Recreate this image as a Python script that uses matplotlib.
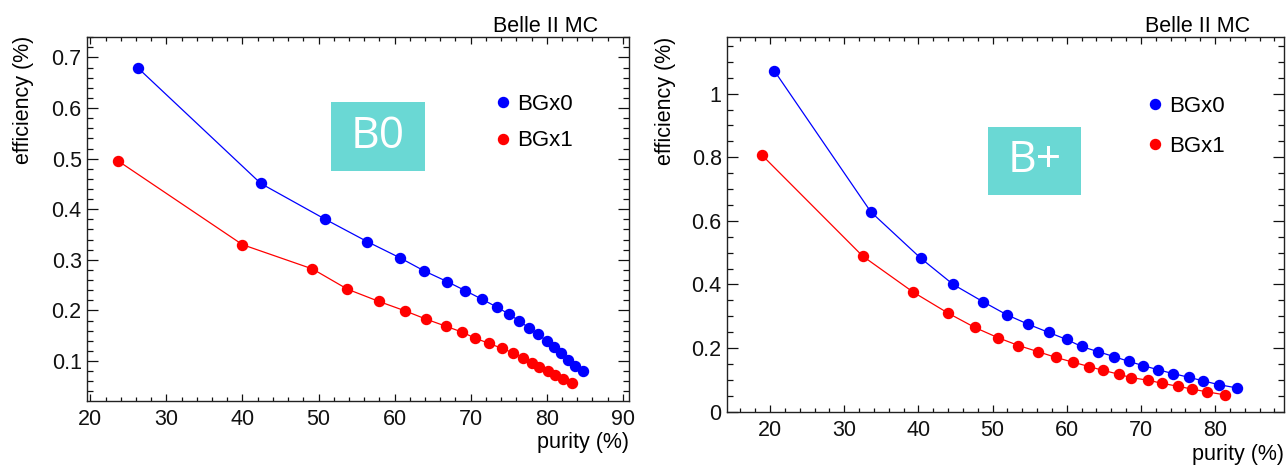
import matplotlib
matplotlib.use("Agg")
from matplotlib import pyplot as plt
from matplotlib.lines import Line2D
from matplotlib.patches import Rectangle
from matplotlib.ticker import MultipleLocator, FormatStrFormatter

plt.rcParams['font.family'] = ['Liberation Sans', 'DejaVu Sans']

# B0 panel
b0_pur_bg0 = [26.2, 42.4, 50.9, 56.4, 60.7, 63.9, 66.9, 69.3, 71.5, 73.4,
              75.0, 76.4, 77.7, 78.9, 80.0, 81.0, 81.9, 82.8, 83.7, 84.8]
b0_eff_bg0 = [0.680, 0.451, 0.380, 0.336, 0.304, 0.278, 0.257, 0.239, 0.222, 0.207,
              0.193, 0.179, 0.165, 0.153, 0.139, 0.127, 0.116, 0.103, 0.091, 0.080]
b0_pur_bg1 = [23.6, 40.0, 49.2, 53.8, 57.9, 61.4, 64.1, 66.7, 68.9, 70.6,
              72.4, 74.1, 75.6, 76.9, 78.0, 79.0, 80.2, 81.1, 82.2, 83.3]
b0_eff_bg1 = [0.496, 0.330, 0.282, 0.242, 0.218, 0.199, 0.183, 0.169, 0.157, 0.145,
              0.135, 0.125, 0.116, 0.106, 0.097, 0.088, 0.080, 0.072, 0.064, 0.056]

# B+ panel
bp_pur_bg0 = [20.6, 33.6, 40.3, 44.7, 48.7, 51.9, 54.8, 57.6, 60.0, 62.0,
              64.2, 66.4, 68.4, 70.3, 72.3, 74.3, 76.5, 78.4, 80.5, 82.9]
bp_eff_bg0 = [1.071, 0.628, 0.483, 0.400, 0.346, 0.305, 0.275, 0.249, 0.227, 0.205,
              0.189, 0.173, 0.158, 0.145, 0.132, 0.120, 0.108, 0.097, 0.085, 0.075]
bp_pur_bg1 = [18.9, 32.5, 39.3, 44.0, 47.6, 50.7, 53.5, 56.1, 58.5, 60.8,
              63.0, 64.9, 67.0, 68.7, 71.0, 72.9, 75.0, 76.9, 78.9, 81.3]
bp_eff_bg1 = [0.807, 0.489, 0.376, 0.310, 0.265, 0.233, 0.208, 0.189, 0.171, 0.156,
              0.142, 0.130, 0.118, 0.107, 0.099, 0.089, 0.080, 0.071, 0.0625, 0.053]

labels = ['BGx0', 'BGx1']
colors = ['#0000ff', '#ff0000']
box_color = '#6ad8d4'

W, H = 1288, 468
fig = plt.figure(figsize=(W / 100, H / 100), dpi=100)


def px(x, y):
    return x / W, 1 - y / H


ax1 = fig.add_axes([87.3 / W, 1 - 400.5 / H, 542 / W, 363.8 / H])
ax2 = fig.add_axes([727.3 / W, 1 - 411.7 / H, 556.7 / W, 374.7 / H])


def style(ax, xmin, xmax, ymin, ymax, ymaj, ymin_step):
    ax.set_xlim(xmin, xmax)
    ax.set_ylim(ymin, ymax)
    ax.xaxis.set_major_locator(MultipleLocator(10))
    ax.xaxis.set_minor_locator(MultipleLocator(2))
    ax.yaxis.set_major_locator(MultipleLocator(ymaj))
    ax.yaxis.set_minor_locator(MultipleLocator(ymin_step))
    ax.yaxis.set_major_formatter(FormatStrFormatter('%g'))
    ax.tick_params(which='both', direction='in', top=True, right=True,
                   width=0.9, labelsize=15.5, colors='#111111')
    ax.tick_params(axis='x', which='major', length=5.2, pad=6)
    ax.tick_params(axis='x', which='minor', length=3.0)
    ax.tick_params(axis='y', which='major', length=8, pad=4)
    ax.tick_params(axis='y', which='minor', length=4.3)
    for s in ax.spines.values():
        s.set_linewidth(1.0)
        s.set_color('#222222')


def draw(ax, series, box_text, box, leg_anchor, leg_space):
    for (xs, ys), c, lab in zip(series, colors, labels):
        ax.plot(xs, ys, color=c, lw=0.9, marker='o', ms=7.2, mec=c, mfc=c, label=lab)
    handles = [Line2D([], [], ls='none', marker='o', ms=7.2, color=c) for c in colors]
    ax.legend(handles, labels, loc='upper left', bbox_to_anchor=leg_anchor,
              frameon=False, fontsize=16, handlelength=0.6, handletextpad=0.3,
              labelspacing=leg_space, borderpad=0, borderaxespad=0)
    ax.add_patch(Rectangle((box[0], box[1]), box[2], box[3], transform=ax.transAxes,
                           facecolor=box_color, edgecolor='none', zorder=3))
    ax.text(box[0] + box[2] / 2, box[1] + box[3] / 2, box_text, transform=ax.transAxes,
            ha='center', va='center', color='white', fontsize=32,
            family=['Open Sans', 'DejaVu Sans'], zorder=4)


style(ax1, 19.6, 90.85, 0.022, 0.741, 0.1, 0.02)
style(ax2, 14.24, 89.3, 0.0, 1.178, 0.2, 0.05)

draw(ax1, [(b0_pur_bg0, b0_eff_bg0), (b0_pur_bg1, b0_eff_bg1)], 'B0',
     (0.4496, 0.6308, 0.1734, 0.1897), (0.7555, 0.842), 0.68)
draw(ax2, [(bp_pur_bg0, bp_eff_bg0), (bp_pur_bg1, bp_eff_bg1)], 'B+',
     (0.4683, 0.5783, 0.167, 0.1815), (0.757, 0.842), 0.83)

# titles, ROOT style
fig.text(*px(598, 32), 'Belle II MC', ha='right', va='baseline', fontsize=15.5)
fig.text(*px(1250, 32), 'Belle II MC', ha='right', va='baseline', fontsize=15.5)
fig.text(*px(629, 448), 'purity (%)', ha='right', va='baseline', fontsize=15.5)
fig.text(*px(1284, 460), 'purity (%)', ha='right', va='baseline', fontsize=15.5)
fig.text(*px(29, 36), 'efficiency (%)', ha='right', va='baseline', fontsize=15.5,
         rotation=90, rotation_mode='anchor')
fig.text(*px(671, 37), 'efficiency (%)', ha='right', va='baseline', fontsize=15.5,
         rotation=90, rotation_mode='anchor')

fig.savefig('out.png', dpi=100)
